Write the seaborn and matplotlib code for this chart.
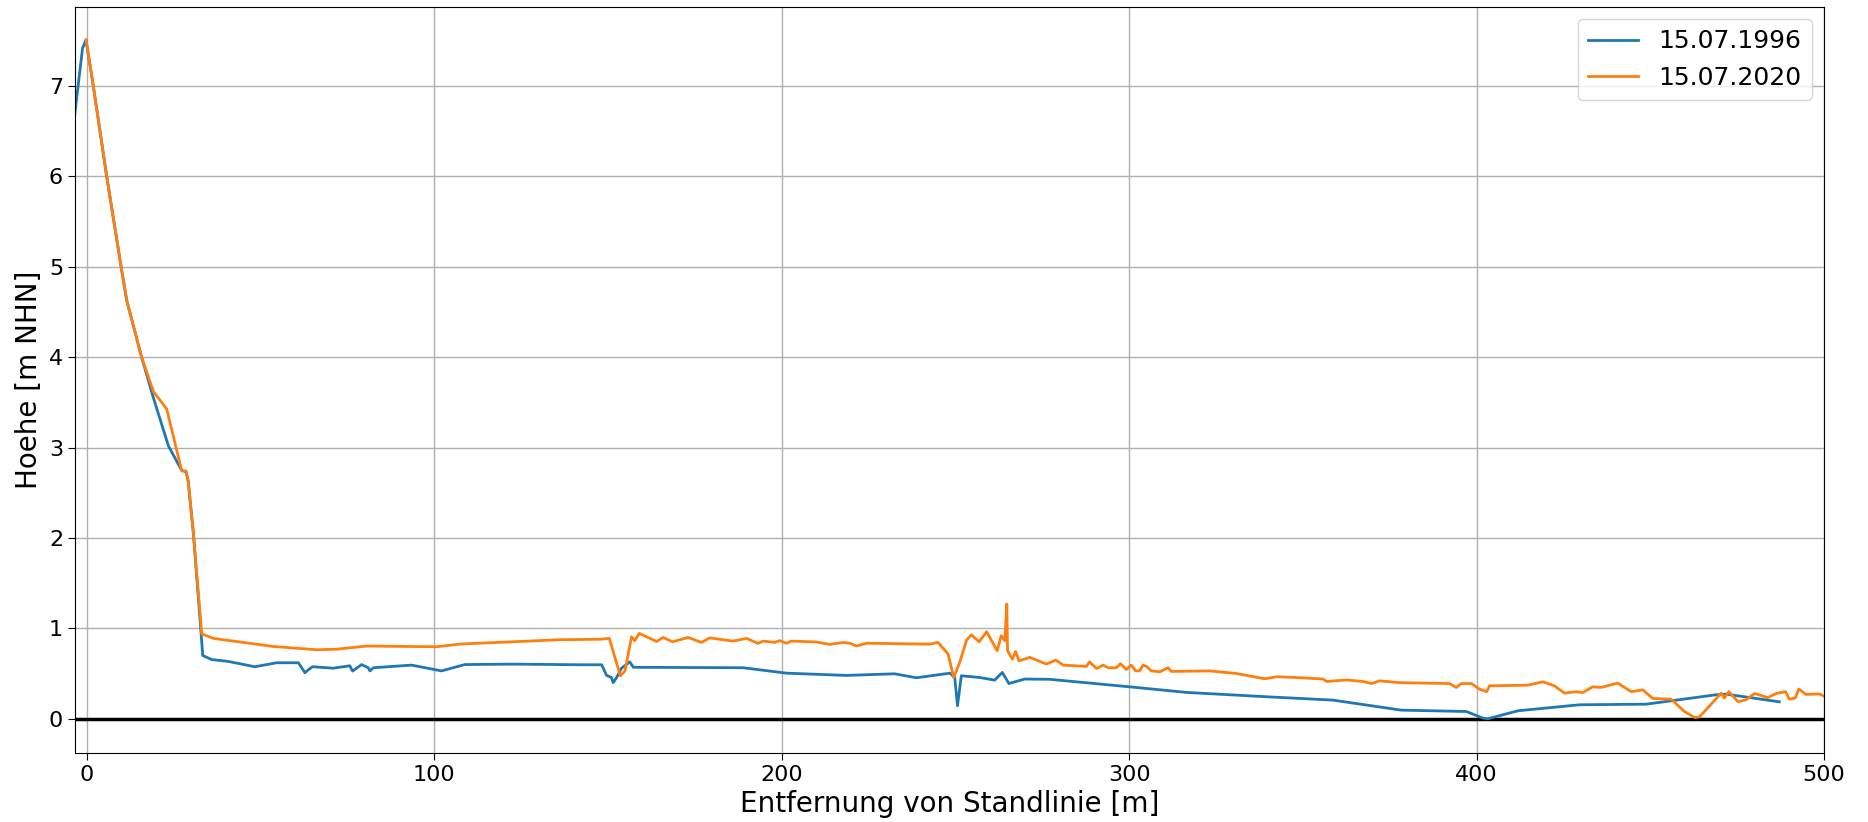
import matplotlib
matplotlib.use("Agg")
import matplotlib.pyplot as plt
import seaborn as sns
import pandas as pd

# Profile 15.07.1996
x_1996 = [-3.4, -1.2, -0.2, 1.9, 5.75, 9.9, 11.5, 15.8, 19.2, 23.5, 27.3, 28.6, 29.2, 30.7,
          33.4, 36.0, 40.7, 48.4, 54.6, 60.9, 62.8, 63.7, 65.0, 71.0, 75.7, 76.5, 79.1, 81.0,
          81.5, 82.5, 93.5, 102.1, 108.8, 122.6, 141.9, 148.2, 149.6, 151.0, 151.5, 152.5,
          153.9, 156.3, 157.3, 188.9, 201.4, 218.6, 232.5, 238.8, 248.4, 249.8, 250.6, 251.7,
          257.0, 261.3, 263.5, 265.4, 269.9, 277.1, 300.1, 316.5, 339.5, 358.6, 378.3, 397.0,
          401.8, 403.2, 411.9, 429.6, 448.8, 468.9, 471.8, 487.1]
y_1996 = [6.70, 7.42, 7.51, 7.00, 6.00, 5.00, 4.63, 4.00, 3.55, 3.02, 2.75, 2.73, 2.63, 2.05,
          0.70, 0.655, 0.635, 0.576, 0.62, 0.62, 0.51, 0.54, 0.576, 0.56, 0.587, 0.528, 0.60,
          0.565, 0.53, 0.565, 0.594, 0.53, 0.60, 0.605, 0.598, 0.598, 0.48, 0.457, 0.40, 0.457,
          0.56, 0.63, 0.57, 0.565, 0.505, 0.48, 0.498, 0.454, 0.505, 0.457, 0.144, 0.476,
          0.457, 0.428, 0.513, 0.39, 0.44, 0.437, 0.354, 0.292, 0.244, 0.207, 0.096, 0.081,
          0.008, 0.0, 0.089, 0.155, 0.162, 0.266, 0.273, 0.188]

# Profile 15.07.2020
x_2020 = [-0.2, 1.9, 5.75, 9.9, 11.5, 15.8, 19.2, 23.0, 27.3, 28.6, 29.2, 30.7, 33.1, 36.4,
          44.1, 53.7, 66.2, 71.9, 80.6, 100.7, 107.4, 122.7, 136.2, 147.7, 150.4, 152.0,
          153.6, 154.9, 156.8, 157.7, 159.0, 164.0, 165.9, 168.6, 173.1, 176.9, 179.3, 186.0,
          189.9, 193.2, 194.7, 198.0, 199.4, 201.4, 202.8, 210.0, 213.8, 217.7, 219.6, 221.5,
          224.4, 242.6, 245.0, 247.9, 249.5, 251.2, 253.2, 254.6, 256.8, 259.0, 262.0, 263.2,
          264.2, 264.8, 265.0, 266.4, 267.3, 268.3, 271.4, 276.2, 278.9, 281.0, 287.7, 288.6,
          290.6, 292.5, 294.0, 296.3, 297.5, 299.2, 300.6, 301.9, 303.0, 304.0, 305.0, 306.4,
          308.8, 311.2, 312.2, 323.1, 330.8, 339.0, 342.4, 347.6, 355.8, 356.8, 362.5, 367.3,
          369.7, 372.1, 377.8, 392.2, 394.1, 395.6, 398.5, 400.8, 402.9, 403.7, 414.7, 419.1,
          422.4, 425.3, 428.6, 430.5, 433.4, 435.8, 440.6, 444.5, 447.8, 450.7, 456.0, 459.8,
          462.7, 464.1, 467.9, 470.4, 471.3, 472.6, 475.2, 477.5, 480.0, 483.8, 486.2, 488.9,
          490.0, 491.7, 492.7, 494.8, 498.6, 500.0]
y_2020 = [7.51, 7.00, 6.00, 5.00, 4.63, 4.00, 3.62, 3.43, 2.75, 2.74, 2.63, 2.05, 0.94, 0.89,
          0.85, 0.80, 0.764, 0.77, 0.805, 0.797, 0.827, 0.853, 0.875, 0.88, 0.89, 0.68, 0.476,
          0.53, 0.908, 0.864, 0.945, 0.856, 0.90, 0.852, 0.90, 0.845, 0.895, 0.86, 0.89, 0.834,
          0.86, 0.845, 0.865, 0.836, 0.86, 0.85, 0.823, 0.845, 0.836, 0.805, 0.836, 0.826, 0.845,
          0.716, 0.457, 0.62, 0.871, 0.93, 0.852, 0.963, 0.753, 0.92, 0.864, 1.27, 0.753, 0.66,
          0.745, 0.642, 0.68, 0.605, 0.65, 0.594, 0.58, 0.63, 0.557, 0.594, 0.565, 0.565, 0.61,
          0.546, 0.594, 0.53, 0.53, 0.594, 0.58, 0.53, 0.52, 0.565, 0.524, 0.53, 0.502, 0.443,
          0.465, 0.458, 0.44, 0.413, 0.43, 0.413, 0.39, 0.42, 0.40, 0.39, 0.347, 0.39, 0.39,
          0.329, 0.30, 0.365, 0.372, 0.41, 0.365, 0.284, 0.30, 0.29, 0.354, 0.347, 0.395, 0.30,
          0.32, 0.225, 0.217, 0.081, 0.015, 0.02, 0.18, 0.284, 0.23, 0.30, 0.19, 0.21, 0.28,
          0.235, 0.28, 0.30, 0.217, 0.23, 0.329, 0.27, 0.275, 0.25]

labels = ["15.07.1996", "15.07.2020"]
xlabel = "Entfernung von Standlinie [m]"
ylabel = "Hoehe [m NHN]"

df = pd.concat([
    pd.DataFrame({"x": x_1996, "y": y_1996, "Datum": labels[0]}),
    pd.DataFrame({"x": x_2020, "y": y_2020, "Datum": labels[1]}),
], ignore_index=True)

plt.rcParams["font.family"] = ["DejaVu Sans"]
fig = plt.figure(figsize=(18.68, 8.22), dpi=100)
ax = fig.add_axes([0.0401, 0.0843, 0.9364, 0.9072])

sns.lineplot(data=df, x="x", y="y", hue="Datum", palette=["#1f77b4", "#ff7f0e"],
             sort=False, estimator=None, linewidth=2.0, ax=ax)
ax.axhline(0, color="black", linewidth=2.5, zorder=1)
ax.grid(True, color="#b0b0b0", linewidth=1.0)
ax.set_axisbelow(True)
ax.set_xlim(-3.4, 500)
ax.set_ylim(-0.375, 7.875)
ax.set_xlabel(xlabel, fontsize=20)
ax.set_ylabel(ylabel, fontsize=20)
ax.tick_params(labelsize=16, length=5)
ax.legend(loc="upper right", fontsize=18, title=None)

fig.savefig("out.png", dpi=100)
